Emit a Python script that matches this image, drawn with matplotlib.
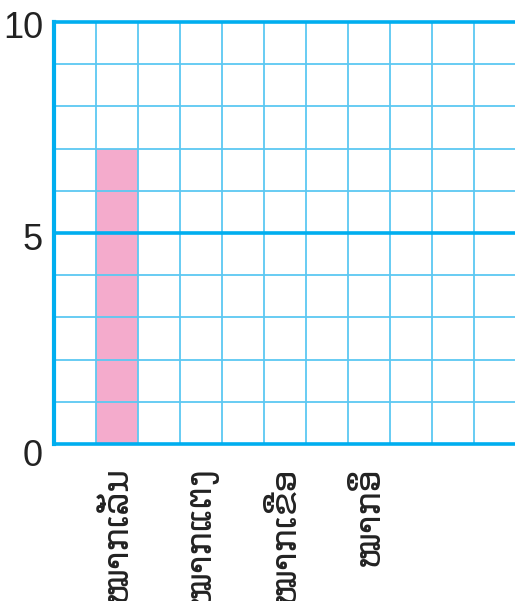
import matplotlib.pyplot as plt
from matplotlib.transforms import ScaledTranslation

# chart data
categories = ['ໝາກເລັ່ນ', 'ໝາກແຕງ', 'ໝາກເຂືອ', 'ໝາກອຶ']
values = [7, 0, 0, 0]
bar_slots = [1, 3, 5, 7]   # grid column of each category
y_ticks = [0, 5, 10]

blue = '#00aeef'
light_blue = '#5cc8f2'
pink = '#f4abcc'

fig = plt.figure(figsize=(5.15, 6.01), dpi=100)
ax = fig.add_axes([54 / 515, 157 / 601, 462 / 515, 422 / 601])
ax.set_xlim(0, 11)
ax.set_ylim(0, 10)

# bars
ax.bar([s + 0.5 for s in bar_slots], values, width=1.0, color=pink, zorder=1)

# grid paper
for x in range(1, 12):
    ax.axvline(x, color=light_blue, lw=1.3, zorder=2)
for y in range(1, 10):
    if y in y_ticks:
        continue
    ax.axhline(y, color=light_blue, lw=1.3, zorder=2)
for y in y_ticks:
    ax.axhline(y, color=blue, lw=2.6, zorder=3, clip_on=False)
ax.axvline(0, color=blue, lw=3, zorder=3, clip_on=False)

for s in ax.spines.values():
    s.set_visible(False)

ax.set_yticks(y_ticks)
ax.set_yticklabels([str(t) for t in y_ticks], fontsize=26, family='Liberation Sans', color='#222222')
ax.tick_params(axis='y', length=0, pad=8)
# numbers sit a little below their lines
for lbl, dy in zip(ax.get_yticklabels(), [8, 3, 3]):
    lbl.set_transform(lbl.get_transform() + ScaledTranslation(0, -dy / 100, fig.dpi_scale_trans))

ax.set_xticks([s + 0.5 for s in bar_slots])
ax.set_xticklabels(categories, rotation=90, fontsize=25, family='DejaVu Sans', va='top', color='#222222')
ax.tick_params(axis='x', length=0, pad=16)

fig.savefig('out.png', dpi=100)
